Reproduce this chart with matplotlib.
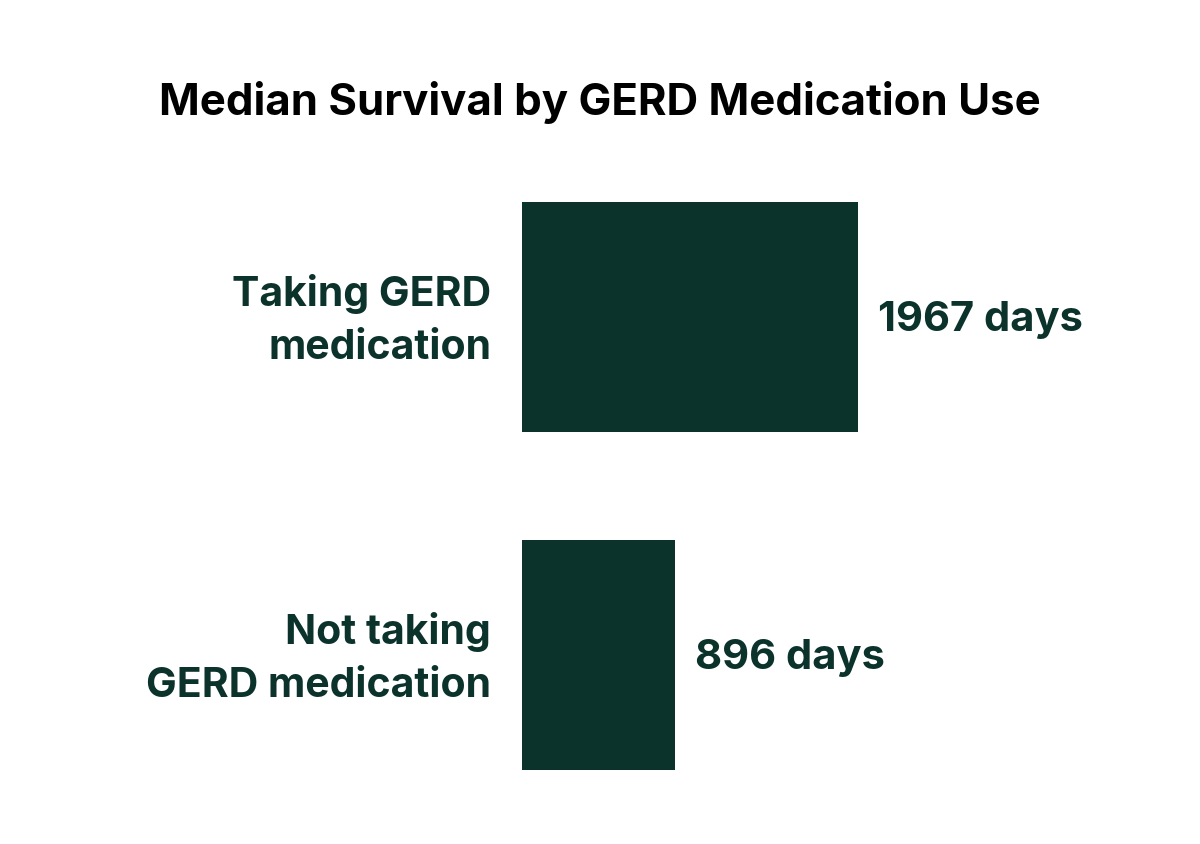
import matplotlib
matplotlib.use("Agg")
import matplotlib.pyplot as plt

# ── Data ──────────────────────────────────────────────────────────────────────
categories = ["Taking GERD\nmedication", "Not taking\nGERD medication"]
survival_days = [1967, 896]
value_labels = ["1967 days", "896 days"]

BAR_COLOUR = "#0b322b"
TEXT_COLOUR = "#0b322b"

plt.rcParams["font.family"] = ["Inter", "DejaVu Sans"]

fig = plt.figure(figsize=(12, 8.44), dpi=100)
ax = fig.add_axes([0.435, 0.0877, 0.48, 0.673])

ypos = [1, 0]
ax.barh(ypos, survival_days, height=0.68, color=BAR_COLOUR, align="center")

ax.set_xlim(0, 1967 * 576 / 336)
ax.set_ylim(-0.34, 1.34)
ax.axis("off")

for y, cat, val, lab in zip(ypos, categories, survival_days, value_labels):
    ax.annotate(cat, xy=(0, y), xytext=(-22.3, -2.5), textcoords="offset points",
                ha="right", va="center", fontsize=29.5, fontweight="bold",
                color=TEXT_COLOUR, linespacing=1.52)
    ax.annotate(lab, xy=(val, y), xytext=(14.4, -2.5), textcoords="offset points",
                ha="left", va="center", fontsize=30, fontweight="bold",
                color=TEXT_COLOUR)

fig.text(0.5, 0.878, "Median Survival by GERD Medication Use", ha="center",
         va="center", fontsize=31.5, fontweight="bold", color="black")

fig.savefig("out.png", dpi=100, facecolor="white")
